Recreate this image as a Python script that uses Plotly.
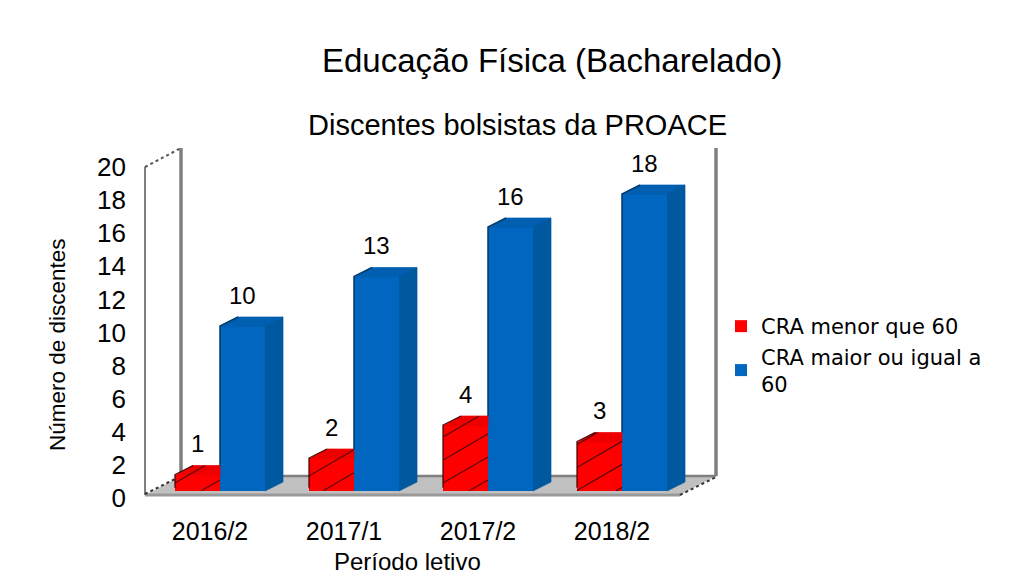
import numpy as np
import plotly.graph_objects as go

periods = ['2016/2', '2017/1', '2017/2', '2018/2']
cra_low = [1, 2, 4, 3]
cra_high = [10, 13, 16, 18]
y_ticks = list(range(0, 21, 2))

FONT = 'Liberation Sans'
RED, RED_TOP = '#FF0000', '#EE0000'
BLUE, BLUE_TOP, BLUE_SIDE = '#0066BF', '#005FB0', '#00589F'
EDGE = '#7F7F7F'

# plot box in page pixels, everything else hangs off these
left, right, top, bottom = 145, 716, 148, 498
body = 8  # the page's own body margin
px_x, px_y = 134, 16.5
bar_w = 45 / px_x
dx, dy = 18 / px_x, 9 / px_y
hatch_phase = [0.67, 1.1, 0.67, 0.22]


def px(x):
    return (x - left) / (right - left)


def py(y):
    return (bottom - y) / (bottom - top)


def face(k, fig, xs, ys, color):
    fig.add_trace(go.Scatter(x=[k + a for a in xs], y=ys, yaxis='y2', mode='lines', fill='toself',
                             fillcolor=color, line=dict(width=0.7, color=color), showlegend=False, hoverinfo='skip'))


def edge(k, fig, xs, ys, color, width=1.5):
    fig.add_trace(go.Scatter(x=[k + a for a in xs], y=ys, yaxis='y2', mode='lines',
                             line=dict(color=color, width=width), showlegend=False, hoverinfo='skip'))


def hatch(k, v, phase):
    xs = np.linspace(-bar_w, 0, 80)
    upper = v + np.minimum(xs + bar_w, dx) * dy / dx
    hx, hy = [], []
    for n in range(-6, 6):
        ys = phase + n * 23 / px_y + 0.58 * (px_x / px_y) * xs
        for i in range(len(xs)):
            inside = 0 <= ys[i] <= upper[i]
            hx.append(k + xs[i] if inside else None)
            hy.append(ys[i] if inside else None)
        hx.append(None)
        hy.append(None)
    return hx, hy


fig = go.Figure()
# keeps the tick axis alive, the bars live on y2
fig.add_trace(go.Scatter(x=[0] * len(y_ticks), y=y_ticks, mode='none', showlegend=False, hoverinfo='skip'))
fig.add_trace(go.Bar(x=[0, 1, 2, 3], y=cra_low, yaxis='y2', offset=-bar_w, width=bar_w,
                     marker=dict(color=RED, line=dict(width=0)), name='CRA menor que 60', hoverinfo='y'))
fig.add_trace(go.Bar(x=[0, 1, 2, 3], y=cra_high, yaxis='y2', offset=0, width=bar_w,
                     marker=dict(color=BLUE, line=dict(width=0)), name='CRA maior ou igual a<br>60', hoverinfo='y'))

for k in range(4):
    low, high = cra_low[k], cra_high[k]
    face(k, fig, [-bar_w, -bar_w + dx, 0, 0], [low - 0.06, low + dy, low + dy, low - 0.06], RED_TOP)
    hx, hy = hatch(k, low, hatch_phase[k])
    fig.add_trace(go.Scatter(x=hx, y=hy, yaxis='y2', mode='lines', line=dict(color='#5A0A0A', width=1.2),
                             showlegend=False, hoverinfo='skip'))
    edge(k, fig, [-bar_w, -bar_w, -bar_w + dx], [0.2, low, low + dy], '#400000', 1.2)

    face(k, fig, [0, dx, bar_w + dx, bar_w], [high - 0.06, high + dy, high + dy, high - 0.06], BLUE_TOP)
    face(k, fig, [bar_w, bar_w + dx, bar_w + dx, bar_w], [0, dy, high + dy, high], BLUE_SIDE)
    edge(k, fig, [0, 0, dx], [low + dy, high, high + dy], '#003A6C', 1.5)

shapes = [
    dict(type='path', path=f'M {px(145)} {py(495)} L {px(680)} {py(495)} L {px(716)} {py(476)} L {px(181)} {py(476)} Z',
         xref='paper', yref='paper', fillcolor='#C0C0C0', line=dict(width=0), layer='below'),
]
for x0, y0, x1, y1, w, c, dash in [
    (145, 167, 145, 495, 2, EDGE, 'solid'),
    (181, 148, 181, 476, 3.5, EDGE, 'solid'),
    (716, 148, 716, 476, 3.5, EDGE, 'solid'),
    (181, 476, 716, 476, 2.5, EDGE, 'solid'),
    (145, 495, 680, 495, 3, '#999999', 'solid'),
    (145, 167, 181, 148, 2, '#555555', 'dot'),
    (145, 494, 181, 476, 2, '#333333', 'dot'),
    (680, 495, 716, 477, 2, '#333333', 'dot'),
]:
    shapes.append(dict(type='line', x0=px(x0), y0=py(y0), x1=px(x1), y1=py(y1), xref='paper', yref='paper',
                       line=dict(color=c, width=w, dash=dash), layer='below'))

notes = []
for k in range(4):
    notes.append(dict(x=k - bar_w / 2, y=cra_low[k], xref='x', yref='y2', text=str(cra_low[k]), showarrow=False,
                      yanchor='middle', yshift=31, font=dict(size=24, color='#000', family=FONT)))
    notes.append(dict(x=k + bar_w / 2, y=cra_high[k], xref='x', yref='y2', text=str(cra_high[k]), showarrow=False,
                      yanchor='middle', yshift=31, font=dict(size=24, color='#000', family=FONT)))
for text, x, y, size, angle in [
    ('Educação Física (Bacharelado)', 552, 61, 33, 0),
    ('Discentes bolsistas da PROACE', 517, 125, 29, 0),
    ('Período letivo', 407, 561, 24, 0),
    ('Número de discentes', 57, 345, 22.5, -90),
]:
    notes.append(dict(x=px(x), y=py(y), xref='paper', yref='paper', text=text, showarrow=False, textangle=angle,
                      xanchor='center', yanchor='middle', font=dict(size=size, color='#000', family=FONT)))

fig.update_layout(
    width=1017 - body, height=574 - body,
    margin=dict(l=left - body, r=1017 - right, t=top - body, b=574 - bottom, autoexpand=False),
    paper_bgcolor='white', plot_bgcolor='rgba(0,0,0,0)',
    bargap=0, shapes=shapes, annotations=notes,
    font=dict(family=FONT, color='#000'),
    legend=dict(x=px(721), y=py(306), xanchor='left', yanchor='top', bgcolor='rgba(0,0,0,0)',
                font=dict(size=21, family='DejaVu Sans', color='#000'), tracegroupgap=0),
    xaxis=dict(range=[(left - 220) / px_x, (right - 220) / px_x], tickmode='array',
               tickvals=[k - 10 / px_x for k in range(4)], ticktext=periods, ticks='', showgrid=False,
               zeroline=False, showline=False, tickfont=dict(size=25, family=FONT), ticklabelstandoff=16),
    yaxis=dict(range=[0, (bottom - top) / 16.55], tickmode='array', tickvals=y_ticks, ticks='', showgrid=False,
               zeroline=False, showline=False, tickfont=dict(size=26, family=FONT), ticklabelstandoff=18),
    yaxis2=dict(range=[(bottom - 491) / -px_y, (491 - top) / px_y], overlaying='y', side='left', visible=False,
                showgrid=False, zeroline=False),
)

fig.write_html("out.html")
